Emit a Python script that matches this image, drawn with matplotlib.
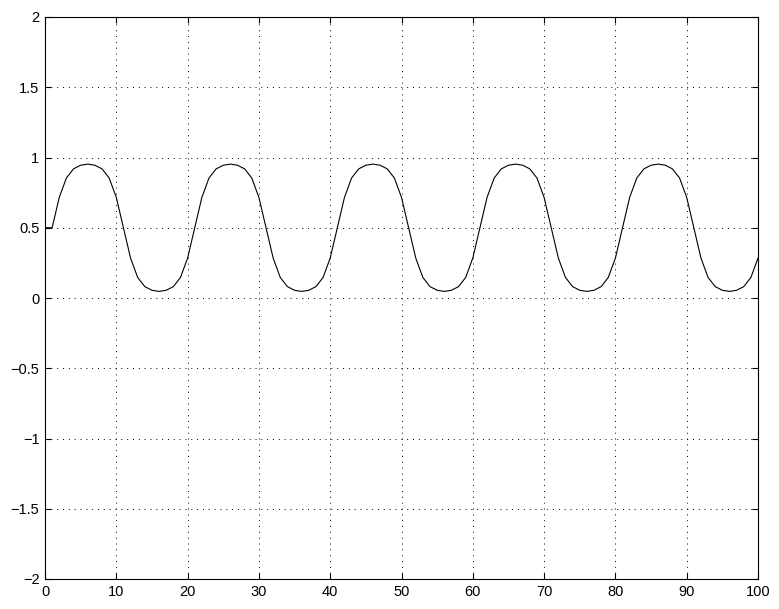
import numpy as np
import matplotlib
matplotlib.use("Agg")
import matplotlib.pyplot as plt

# sample index (0..100) and signal value
t = list(range(0, 101))
y = [0.5,
     0.5, 0.716, 0.854, 0.919, 0.945, 0.953, 0.945, 0.919, 0.854, 0.716,
     0.5, 0.284, 0.146, 0.081, 0.055, 0.047, 0.055, 0.081, 0.146, 0.284,
     0.5, 0.716, 0.854, 0.919, 0.945, 0.953, 0.945, 0.919, 0.854, 0.716,
     0.5, 0.284, 0.146, 0.081, 0.055, 0.047, 0.055, 0.081, 0.146, 0.284,
     0.5, 0.716, 0.854, 0.919, 0.945, 0.953, 0.945, 0.919, 0.854, 0.716,
     0.5, 0.284, 0.146, 0.081, 0.055, 0.047, 0.055, 0.081, 0.146, 0.284,
     0.5, 0.716, 0.854, 0.919, 0.945, 0.953, 0.945, 0.919, 0.854, 0.716,
     0.5, 0.284, 0.146, 0.081, 0.055, 0.047, 0.055, 0.081, 0.146, 0.284,
     0.5, 0.716, 0.854, 0.919, 0.945, 0.953, 0.945, 0.919, 0.854, 0.716,
     0.5, 0.284, 0.146, 0.081, 0.055, 0.047, 0.055, 0.081, 0.146, 0.284]

x_ticks = list(range(0, 101, 10))
y_ticks = [-2, -1.5, -1, -0.5, 0, 0.5, 1, 1.5, 2]
y_labels = ["\u22122", "\u22121.5", "\u22121", "\u22120.5", "0", "0.5", "1", "1.5", "2"]

plt.rcParams['font.family'] = ['Liberation Sans', 'DejaVu Sans']
plt.rcParams['font.size'] = 10.5

fig = plt.figure(figsize=(7.79, 6.09), dpi=100)
ax = fig.add_axes([45 / 779, 30 / 609, 713 / 779, 562 / 609])

ax.plot(t, y, color="black", linewidth=0.8)

ax.set_xlim(0, 100)
ax.set_ylim(-2, 2)
ax.set_xticks(x_ticks)
ax.set_yticks(y_ticks)
ax.set_yticklabels(y_labels)

# MATLAB-like dotted grid, ticks inside on all four sides
ax.grid(True, color="black", linestyle=(0, (1, 5)), linewidth=0.7)
ax.tick_params(direction="in", length=4, width=0.8, top=True, right=True,
               colors="black", pad=4)
for s in ax.spines.values():
    s.set_linewidth(0.8)

fig.savefig("out.png", dpi=100)
